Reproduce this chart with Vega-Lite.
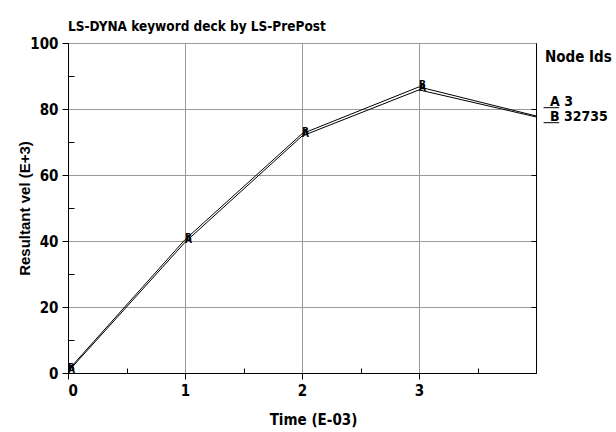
{
  "$schema": "https://vega.github.io/schema/vega-lite/v6.json",
  "width": 468,
  "height": 330,
  "autosize": {"type": "none"},
  "padding": {"left": 68, "top": 43, "right": 80, "bottom": 59},
  "background": "white",
  "config": {
    "view": {"stroke": "black", "strokeWidth": 1},
    "font": "DejaVu Sans Condensed, Liberation Sans, sans-serif"
  },
  "title": {
    "text": "LS-DYNA keyword deck by LS-PrePost",
    "anchor": "start",
    "frame": "group",
    "font": "DejaVu Sans Condensed, Liberation Sans, sans-serif",
    "fontSize": 13.5,
    "fontWeight": "bold",
    "color": "black",
    "offset": 3
  },
  "data": {
    "values": [
      {"node": "A", "t": 0, "v": 0.4},
      {"node": "A", "t": 1, "v": 39.6},
      {"node": "A", "t": 2, "v": 71.8},
      {"node": "A", "t": 3, "v": 85.8},
      {"node": "A", "t": 4, "v": 77.6},
      {"node": "B", "t": 0, "v": 0.8},
      {"node": "B", "t": 1, "v": 40.4},
      {"node": "B", "t": 2, "v": 72.5},
      {"node": "B", "t": 3, "v": 86.7},
      {"node": "B", "t": 4, "v": 77.9}
    ]
  },
  "layer": [
    {
      "mark": {"type": "line", "strokeWidth": 1, "clip": true},
      "encoding": {
        "x": {
          "field": "t", "type": "quantitative",
          "scale": {"domain": [0, 4], "nice": false},
          "axis": {
            "values": [0, 1, 2, 3],
            "title": "Time (E-03)",
            "titleFont": "DejaVu Sans Condensed, Liberation Sans, sans-serif",
            "titleFontSize": 15,
            "titleFontWeight": "bold",
            "titleColor": "black",
            "titleX": 245,
            "titleAlign": "center",
            "titlePadding": 14,
            "labelFont": "DejaVu Sans Condensed, Liberation Sans, sans-serif",
            "labelFontSize": 15,
            "labelFontWeight": "bold",
            "labelColor": "black",
            "labelPadding": 4,
            "tickSize": 6,
            "tickColor": "black",
            "domainColor": "black",
            "grid": true,
            "gridColor": "#9a9a9a",
            "gridWidth": 1
          }
        },
        "y": {
          "field": "v", "type": "quantitative",
          "scale": {"domain": [0, 100], "nice": false},
          "axis": {
            "values": [0, 20, 40, 60, 80, 100],
            "title": "Resultant vel (E+3)",
            "titleFont": "Liberation Sans",
            "titleFontSize": 15,
            "titleFontWeight": "bold",
            "titleColor": "black",
            "titlePadding": -3,
            "labelFont": "DejaVu Sans Condensed, Liberation Sans, sans-serif",
            "labelFontSize": 15,
            "labelFontWeight": "bold",
            "labelColor": "black",
            "labelPadding": 4,
            "tickSize": 6,
            "tickColor": "black",
            "domainColor": "black",
            "grid": true,
            "gridColor": "#9a9a9a",
            "gridWidth": 1
          }
        },
        "detail": {"field": "node"},
        "color": {
          "field": "node", "type": "nominal",
          "scale": {"domain": ["A", "B"], "range": ["black", "black"]},
          "legend": {
            "orient": "none",
            "legendX": 477,
            "legendY": 7,
            "title": "Node Ids",
            "titleFont": "DejaVu Sans Condensed, Liberation Sans, sans-serif",
            "titleFontSize": 15,
            "titleFontWeight": "bold",
            "titleColor": "black",
            "titlePadding": 30,
            "labelFont": "DejaVu Sans Condensed, Liberation Sans, sans-serif",
            "labelFontSize": 14,
            "labelFontWeight": "bold",
            "labelColor": "black",
            "labelExpr": "datum.value == 'A' ? 'A  3' : 'B  32735'",
            "labelOffset": -9,
            "symbolType": "M-1.4,0.95 L1.2,0.95",
            "symbolSize": 144,
            "symbolStrokeWidth": 1,
            "symbolStrokeColor": "black",
            "rowPadding": -2,
            "padding": 0
          }
        }
      }
    },
    {
      "transform": [{"filter": "datum.t < 4"}],
      "mark": {"type": "text", "align": "left", "baseline": "bottom", "dy": 3, "dx": 0, "fontSize": 10, "fontWeight": "bold", "font": "DejaVu Sans Condensed, Liberation Sans, sans-serif", "color": "black"},
      "encoding": {
        "x": {"field": "t", "type": "quantitative", "axis": null},
        "y": {"field": "v", "type": "quantitative", "axis": null},
        "text": {"field": "node"},
        "order": {"field": "node"}
      }
    },
    {
      "mark": {"type": "rule", "opacity": 0},
      "encoding": {
        "x": {
          "field": "t", "type": "quantitative",
          "axis": {"orient": "bottom", "values": [0.5, 1.5, 2.5, 3.5], "tickSize": -5, "tickColor": "black", "labels": false, "domain": false, "grid": false, "title": null}
        },
        "y": {
          "field": "v", "type": "quantitative",
          "axis": {"orient": "left", "values": [10, 30, 50, 70, 90], "tickSize": -6, "tickColor": "black", "labels": false, "domain": false, "grid": false, "title": null}
        }
      }
    },
    {
      "mark": {"type": "rule", "opacity": 0},
      "encoding": {
        "y": {
          "field": "v", "type": "quantitative",
          "axis": {"orient": "right", "values": [20, 40, 60, 80], "tickSize": -5, "tickColor": "black", "labels": false, "domain": true, "domainColor": "black", "grid": false, "title": null}
        }
      }
    }
  ],
  "resolve": {"axis": {"x": "independent", "y": "independent"}}
}
